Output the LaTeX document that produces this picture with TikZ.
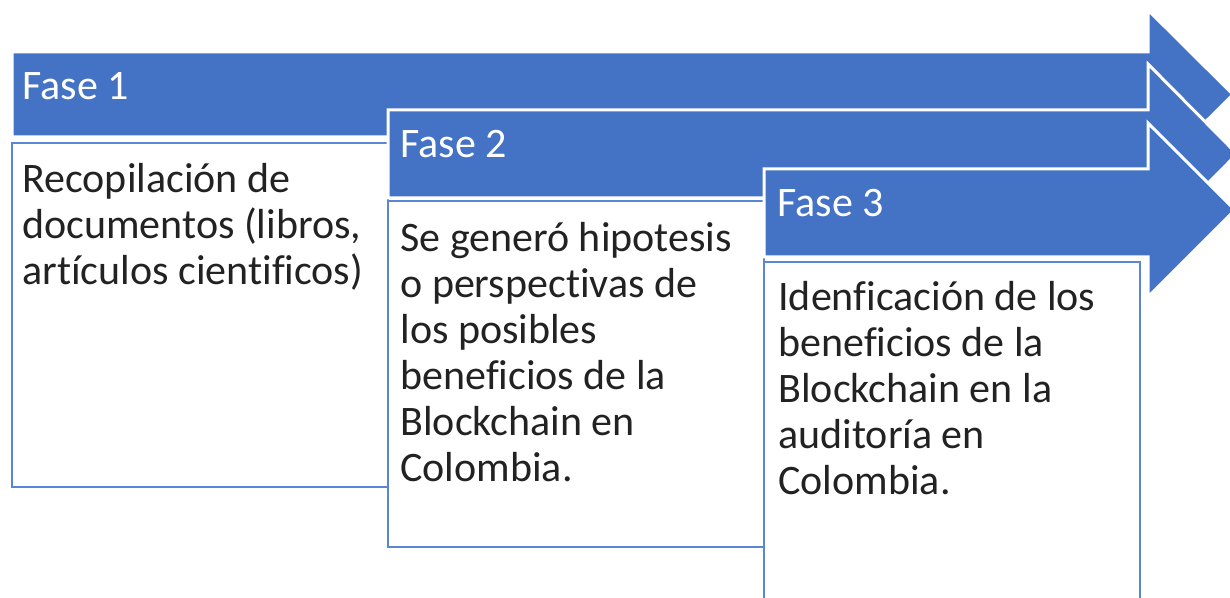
\documentclass[tikz,border=0pt]{standalone}
\usepackage{fontspec}
\setmainfont{Carlito}[Ligatures=CommonOff]
\usepackage{xcolor}
\usetikzlibrary{positioning}
\definecolor{faseblue}{HTML}{4472C4}
\definecolor{boxline}{HTML}{5A86D4}
\definecolor{textdark}{HTML}{222222}

\tikzset{
    phasearrow/.style={fill=faseblue, draw=white, line width=1.5},
    phasebox/.style={draw=boxline, fill=white, line width=1.2},
    phaselabel/.style={anchor=base west, inner sep=0pt, text=white,
        font=\fontsize{21}{23}\selectfont},
    % multi-line text: base anchor sits on the last line
    phasetext/.style={anchor=base west, inner sep=0pt, text=textdark, align=left,
        font=\fontsize{21}{23}\selectfont}
}

\begin{document}
\begin{tikzpicture}[x=0.5pt, y=-0.5pt]

    % Canvas, tips of the arrows run off the right edge
    \useasboundingbox (0,0) rectangle (1230,598);
    \clip (0,0) rectangle (1230,598);

    % --- PHASE 1 ---
    \draw[phasearrow] (12,52) -- (1148,52) -- (1148,10) -- (1233,94.5)
        -- (1148,179) -- (1148,137) -- (12,137) -- cycle;
    \draw[phasebox] (12,143) rectangle (388,487);
    \node[phaselabel] (fase1) at (22,100) {Fase 1};
    \node[phasetext] (desc1) at (22,285) {Recopilación de\\documentos (libros,\\artículos cientificos)};

    % --- PHASE 2 ---
    \draw[phasearrow] (388,110) -- (1148,110) -- (1148,64) -- (1237,154)
        -- (1148,244) -- (1148,198) -- (388,198) -- cycle;
    \draw[phasebox] (388,201) rectangle (764,547);
    \node[phaselabel] (fase2) at (400,158) {Fase 2};
    \node[phasetext] (desc2) at (400,481) {Se generó hipotesis\\o perspectivas de\\los posibles\\beneficios de la\\Blockchain en\\Colombia.};

    % --- PHASE 3 ---
    \draw[phasearrow] (764,169) -- (1148,169) -- (1148,123) -- (1235,210)
        -- (1148,297) -- (1148,257) -- (764,257) -- cycle;
    \draw[phasebox] (764,262) rectangle (1140,610);
    \node[phaselabel] (fase3) at (777,217) {Fase 3};
    \node[phasetext] (desc3) at (778,494) {Idenficación de los\\beneficios de la\\Blockchain en la\\auditoría en\\Colombia.};

\end{tikzpicture}
\end{document}
